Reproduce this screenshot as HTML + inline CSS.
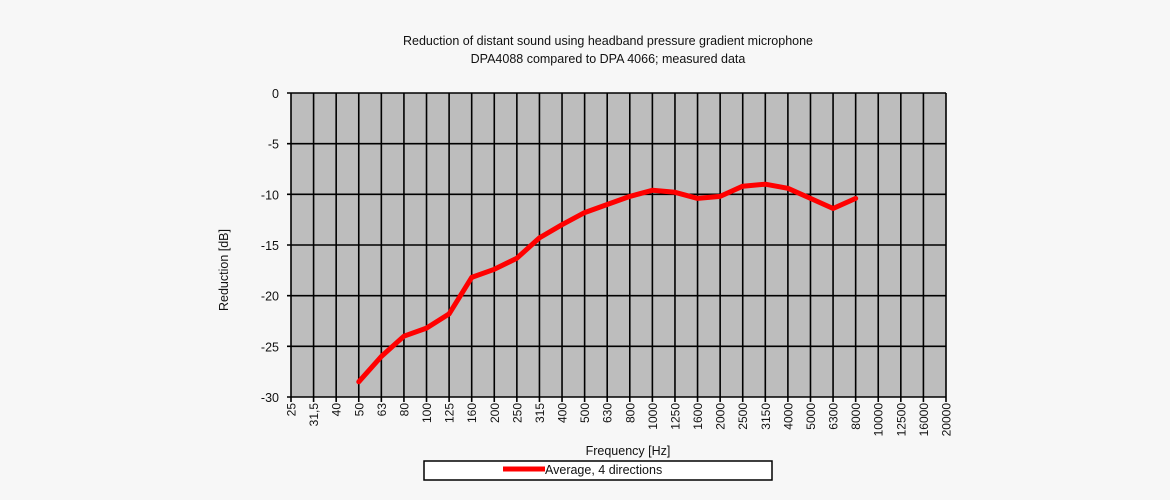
<!DOCTYPE html>
<html><head><meta charset="utf-8"><style>
html,body{margin:0;padding:0;background:#f7f7f7;}
svg{display:block;font-family:"Liberation Sans",Arial,sans-serif;}
</style></head><body>
<svg width="1170" height="500" viewBox="0 0 1170 500">
<rect width="1170" height="500" fill="#f7f7f7"/>
<text x="608" y="45" font-size="12.5" text-anchor="middle" fill="#111">Reduction of distant sound using headband pressure gradient microphone</text>
<text x="608" y="63" font-size="12.5" text-anchor="middle" fill="#111">DPA4088 compared to DPA 4066; measured data</text>
<rect x="291" y="93" width="655" height="304" fill="#bdbdbd"/>
<g id="g" stroke="#000" stroke-width="1.6"></g>
<g id="yl" font-size="12.5" fill="#111" text-anchor="end"></g>
<g id="xl" font-size="12" fill="#111"></g>
<polyline id="ln" fill="none" stroke="#ff0000" stroke-width="5" stroke-linejoin="round" stroke-linecap="round"/>
<text transform="translate(228,270) rotate(-90)" font-size="12.5" text-anchor="middle" fill="#111">Reduction [dB]</text>
<text x="628" y="455" font-size="12.5" text-anchor="middle" fill="#111">Frequency [Hz]</text>
<rect x="424" y="461" width="348" height="19" fill="#fff" stroke="#000" stroke-width="1.5"/>
<line x1="503" y1="469" x2="545" y2="469" stroke="#ff0000" stroke-width="5"/>
<text x="545" y="474" font-size="12.5" fill="#111">Average, 4 directions</text>
</svg>
<script>
var ns="http://www.w3.org/2000/svg";
var L=291,R=946,T=93,B=397,n=30,dx=(R-L)/(n-1),dy=(B-T)/30;
var labs=["25","31,5","40","50","63","80","100","125","160","200","250","315","400","500","630","800","1000","1250","1600","2000","2500","3150","4000","5000","6300","8000","10000","12500","16000","20000"];
var g=document.getElementById("g"),yl=document.getElementById("yl"),xl=document.getElementById("xl");
function el(t,a,p){var e=document.createElementNS(ns,t);for(var k in a)e.setAttribute(k,a[k]);p.appendChild(e);return e;}
for(var i=0;i<n;i++){var x=L+i*dx;el("line",{x1:x,y1:T,x2:x,y2:B+5},g);
 var t=el("text",{transform:"translate("+(x+4.5)+","+(B+6)+") rotate(-90)","text-anchor":"end"},xl);t.textContent=labs[i];}
for(var j=0;j<=6;j++){var y=T+j*5*dy;el("line",{x1:L-4,y1:y,x2:R,y2:y},g);
 var t=el("text",{x:L-12,y:y+5},yl);t.textContent=j==0?"0":"-"+(j*5);}
var v=[-28.5,-26,-24,-23.2,-21.8,-18.2,-17.4,-16.3,-14.3,-13,-11.8,-11,-10.2,-9.6,-9.8,-10.4,-10.2,-9.2,-9,-9.4,-10.4,-11.4,-10.4];
var pts=v.map(function(val,k){return (L+(k+3)*dx).toFixed(1)+","+(T-val*dy).toFixed(1);});
document.getElementById("ln").setAttribute("points",pts.join(" "));
</script>
</body></html>
